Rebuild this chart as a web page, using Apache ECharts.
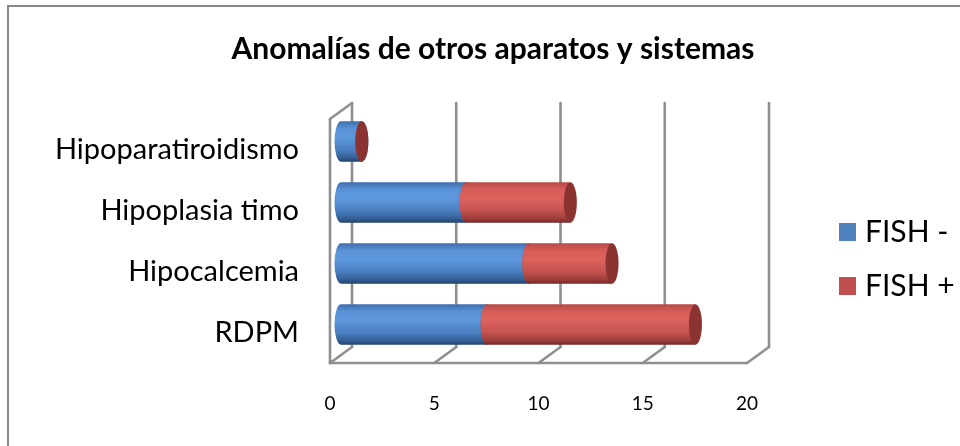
<!DOCTYPE html>
<html>
<head>
<meta charset="utf-8">
<script src="https://cdn.jsdelivr.net/npm/echarts@6/dist/echarts.min.js"></script>
<style>
  html, body { margin: 0; padding: 0; background: #ffffff; }
  #chart { width: 960px; height: 446px; }
</style>
</head>
<body>
<div id="chart"></div>
<script>
// Categories, top to bottom
const categories = ['Hipoparatiroidismo', 'Hipoplasia timo', 'Hipocalcemia', 'RDPM'];
// Stacked series values
const fishNeg = [1, 6, 9, 7];
const fishPos = [0, 5, 4, 10];
// Value axis ticks
const xTicks = [0, 5, 10, 15, 20];

// 3D look: depth offset of the back wall, bar thickness and end-cap width (pixels)
const DEPTH_X = 22;
const DEPTH_Y = -16;
const BAR_RATIO = 0.66;
const CAP_RX = 6.5;
const WALL_COLOR = '#8f8f8f';

const FONT = 'Lato, "Open Sans", sans-serif';

// [category index, segment start, segment end]
function segments(base, values) {
  return values.map((v, i) => [i, base[i], base[i] + v]);
}
const zeros = categories.map(() => 0);
const negRows = segments(zeros, fishNeg);
const posRows = segments(fishNeg, fishPos);

const blueBody = new echarts.graphic.LinearGradient(0, 0, 0, 1, [
  { offset: 0, color: '#3f6fae' },
  { offset: 0.18, color: '#5a92d6' },
  { offset: 0.4, color: '#5e98dd' },
  { offset: 0.7, color: '#4a7fc0' },
  { offset: 0.9, color: '#345f97' },
  { offset: 1, color: '#23436d' }
]);
const redBody = new echarts.graphic.LinearGradient(0, 0, 0, 1, [
  { offset: 0, color: '#b84a47' },
  { offset: 0.18, color: '#d75d59' },
  { offset: 0.4, color: '#dc625e' },
  { offset: 0.7, color: '#c4534f' },
  { offset: 0.9, color: '#9c3d3a' },
  { offset: 1, color: '#72292a' }
]);

function cylinder(bodyFill, capFill) {
  return function (params, api) {
    const cat = api.value(0);
    const start = api.value(1);
    const end = api.value(2);
    const a = api.coord([start, cat]);
    const b = api.coord([end, cat]);
    const band = api.size([0, 1])[1];
    const h = band * BAR_RATIO;
    const ry = h / 2;
    const x0 = a[0] + DEPTH_X / 2;
    const x1 = b[0] + DEPTH_X / 2;
    const cy = a[1] + DEPTH_Y / 2;
    const top = cy - ry;
    const bot = cy + ry;
    const path = 'M' + x0 + ',' + top + ' L' + x1 + ',' + top + ' L' + x1 + ',' + bot +
      ' L' + x0 + ',' + bot + ' A' + CAP_RX + ',' + ry + ' 0 0 1 ' + x0 + ',' + top + ' Z';
    return {
      type: 'group',
      children: [
        { type: 'path', shape: { pathData: path }, style: { fill: bodyFill } },
        { type: 'ellipse', shape: { cx: x1, cy: cy, rx: CAP_RX, ry: ry }, style: { fill: capFill } }
      ]
    };
  };
}

// Back wall gridlines, floor and the left frame of the box
function walls(params, api) {
  const t = api.value(0);
  const cs = params.coordSys;
  const top = cs.y;
  const bottom = cs.y + cs.height;
  const x = api.coord([t, 0])[0];
  const st = { stroke: WALL_COLOR, lineWidth: 2.6, lineCap: 'round' };
  const children = [
    { type: 'line', shape: { x1: x + DEPTH_X, y1: top + DEPTH_Y, x2: x + DEPTH_X, y2: bottom + DEPTH_Y }, style: st },
    { type: 'line', shape: { x1: x, y1: bottom, x2: x + DEPTH_X, y2: bottom + DEPTH_Y }, style: st }
  ];
  if (params.dataIndex === 0) {
    const xEnd = api.coord([xTicks[xTicks.length - 1], 0])[0];
    children.push(
      { type: 'line', shape: { x1: x, y1: top, x2: x, y2: bottom }, style: st },
      { type: 'line', shape: { x1: x, y1: top, x2: x + DEPTH_X, y2: top + DEPTH_Y }, style: st },
      { type: 'line', shape: { x1: x, y1: bottom, x2: xEnd, y2: bottom }, style: st }
    );
  }
  return { type: 'group', children: children };
}

const chart = echarts.init(document.getElementById('chart'), null, { renderer: 'canvas' });
chart.setOption({
  backgroundColor: '#ffffff',
  animation: false,
  title: {
    text: 'Anomalías de otros aparatos y sistemas',
    left: 488,
    textAlign: 'center',
    top: 29,
    textStyle: { fontFamily: FONT, fontSize: 30, fontWeight: 'bold', color: '#000000' }
  },
  graphic: [{
    type: 'rect',
    shape: { x: 8, y: 6, width: 1000, height: 500 },
    style: { fill: 'none', stroke: '#878787', lineWidth: 2 },
    silent: true
  }],
  legend: {
    orient: 'vertical',
    left: 839,
    top: 217,
    padding: 0,
    itemWidth: 17,
    itemHeight: 18,
    itemGap: 24,
    icon: 'rect',
    textStyle: { fontFamily: FONT, fontSize: 30, lineHeight: 30, color: '#000000', padding: [0, 0, 0, 4] },
    data: [
      { name: 'FISH -', itemStyle: { color: '#4f81bd' } },
      { name: 'FISH +', itemStyle: { color: '#c0504d' } }
    ]
  },
  grid: { left: 330, right: 213, top: 119, bottom: 83 },
  xAxis: {
    type: 'value',
    min: xTicks[0],
    max: xTicks[xTicks.length - 1],
    interval: xTicks[1] - xTicks[0],
    axisLine: { show: false },
    axisTick: { show: false },
    splitLine: { show: false },
    axisLabel: { margin: 31, fontFamily: FONT, fontSize: 19, color: '#000000' }
  },
  yAxis: {
    type: 'category',
    inverse: true,
    data: categories,
    axisLine: { show: false },
    axisTick: { show: false },
    axisLabel: { margin: 31, fontFamily: FONT, fontSize: 29, color: '#000000', padding: [4, 0, 0, 0] }
  },
  series: [
    {
      type: 'custom',
      name: 'walls',
      silent: true,
      z: 1,
      renderItem: walls,
      data: xTicks.map(t => [t])
    },
    {
      type: 'custom',
      name: 'FISH -',
      z: 2,
      itemStyle: { color: '#4f81bd' },
      renderItem: cylinder(blueBody, '#3e6aa3'),
      encode: { x: [1, 2], y: 0 },
      data: negRows
    },
    {
      type: 'custom',
      name: 'FISH +',
      z: 3,
      itemStyle: { color: '#c0504d' },
      renderItem: cylinder(redBody, '#8a3331'),
      encode: { x: [1, 2], y: 0 },
      data: posRows
    }
  ]
});
</script>
</body>
</html>
